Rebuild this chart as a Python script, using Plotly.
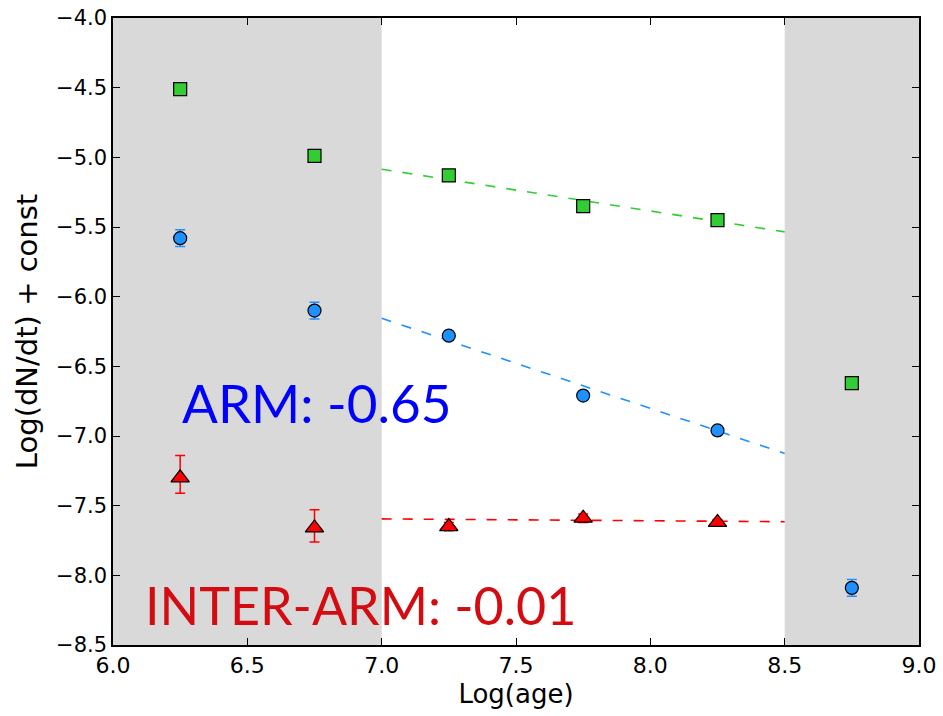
import plotly.graph_objects as go

# ---- data ----
log_age = [6.25, 6.75, 7.25, 7.75, 8.25, 8.75]

green_y = [-4.51, -4.99, -5.13, -5.35, -5.45, -6.62]
green_err = [0.02, 0.02, 0.02, 0.02, 0.02, 0.02]

blue_y = [-5.58, -6.10, -6.28, -6.71, -6.96, -8.09]
blue_err = [0.06, 0.06, 0.03, 0.02, 0.02, 0.06]

red_x = [6.25, 6.75, 7.25, 7.75, 8.25]
red_y = [-7.30, -7.66, -7.65, -7.59, -7.62]
red_err_plus = [0.16, 0.13, 0.03, 0.03, 0.02]
red_err_minus = [0.11, 0.10, 0.03, 0.03, 0.02]

fit_x = [7.0, 8.5]
green_fit = [-5.085, -5.535]
blue_fit = [-6.155, -7.125]
red_fit = [-7.595, -7.615]

shade_x0 = [6.0, 8.5]
shade_x1 = [7.0, 9.0]

x_ticks = [6.0, 6.5, 7.0, 7.5, 8.0, 8.5, 9.0]
y_ticks = [-8.5, -8.0, -7.5, -7.0, -6.5, -6.0, -5.5, -5.0, -4.5, -4.0]

arm_label = "ARM: -0.65"
interarm_label = "INTER-ARM: -0.01"

GREEN = "#32cd32"
BLUE = "#1e90ff"
RED = "#ff0000"

fig = go.Figure()

# fit lines
for ys, col in [(green_fit, GREEN), (blue_fit, BLUE), (red_fit, RED)]:
    fig.add_trace(go.Scatter(x=fit_x, y=ys, mode="lines",
                             line=dict(color=col, width=1.6, dash="10px,11px"),
                             hoverinfo="skip", showlegend=False))

fig.add_trace(go.Scatter(
    x=log_age, y=green_y, mode="markers",
    error_y=dict(type="data", array=green_err, color=GREEN, thickness=1.5, width=5),
    marker=dict(symbol="square", size=13, color=GREEN, line=dict(color="black", width=1.2)),
    showlegend=False))

fig.add_trace(go.Scatter(
    x=log_age, y=blue_y, mode="markers",
    error_y=dict(type="data", array=blue_err, color=BLUE, thickness=1.5, width=5),
    marker=dict(symbol="circle", size=13, color=BLUE, line=dict(color="black", width=1.2)),
    showlegend=False))

fig.add_trace(go.Scatter(
    x=red_x, y=red_y, mode="markers",
    error_y=dict(type="data", symmetric=False, array=red_err_plus, arrayminus=red_err_minus,
                 color=RED, thickness=1.5, width=5),
    marker=dict(symbol="triangle-up", size=16, color=RED, line=dict(color="black", width=1.2)),
    showlegend=False))

for a, b in zip(shade_x0, shade_x1):
    fig.add_shape(type="rect", x0=a, x1=b, y0=0, y1=1, xref="x", yref="paper",
                  fillcolor="#d9d9d9", line=dict(width=0), layer="below")

fig.add_annotation(x=6.76, y=-6.76, text=arm_label, showarrow=False,
                   font=dict(family="Lato", size=53, color="#0000ff"))
fig.add_annotation(x=6.92, y=-8.21, text=interarm_label, showarrow=False,
                   font=dict(family="Lato", size=52, color="#d40c12"))

axis_common = dict(showgrid=False, zeroline=False, showline=True, linecolor="black",
                   linewidth=1.5, mirror="ticks", ticks="inside", ticklen=7,
                   tickcolor="black", tickwidth=1, automargin=False)

fig.update_xaxes(range=[6.0, 9.0], tickvals=x_ticks, tickformat=".1f",
                 tickfont=dict(family="DejaVu Sans", size=22, color="black"),
                 title=dict(text="Log(age)", font=dict(family="DejaVu Sans", size=26, color="black"),
                            standoff=8),
                 **axis_common)
fig.update_yaxes(range=[-8.5, -4.0], tickvals=y_ticks, tickformat=".1f",
                 tickfont=dict(family="DejaVu Sans", size=21, color="black"),
                 title=dict(text="Log(dN/dt) + const",
                            font=dict(family="DejaVu Sans", size=29, color="black"),
                            standoff=10),
                 **axis_common)

fig.update_layout(width=943, height=716,
                  margin=dict(l=113, r=24, t=18, b=71),
                  plot_bgcolor="white", paper_bgcolor="white",
                  showlegend=False)

fig.write_html("out.html")
